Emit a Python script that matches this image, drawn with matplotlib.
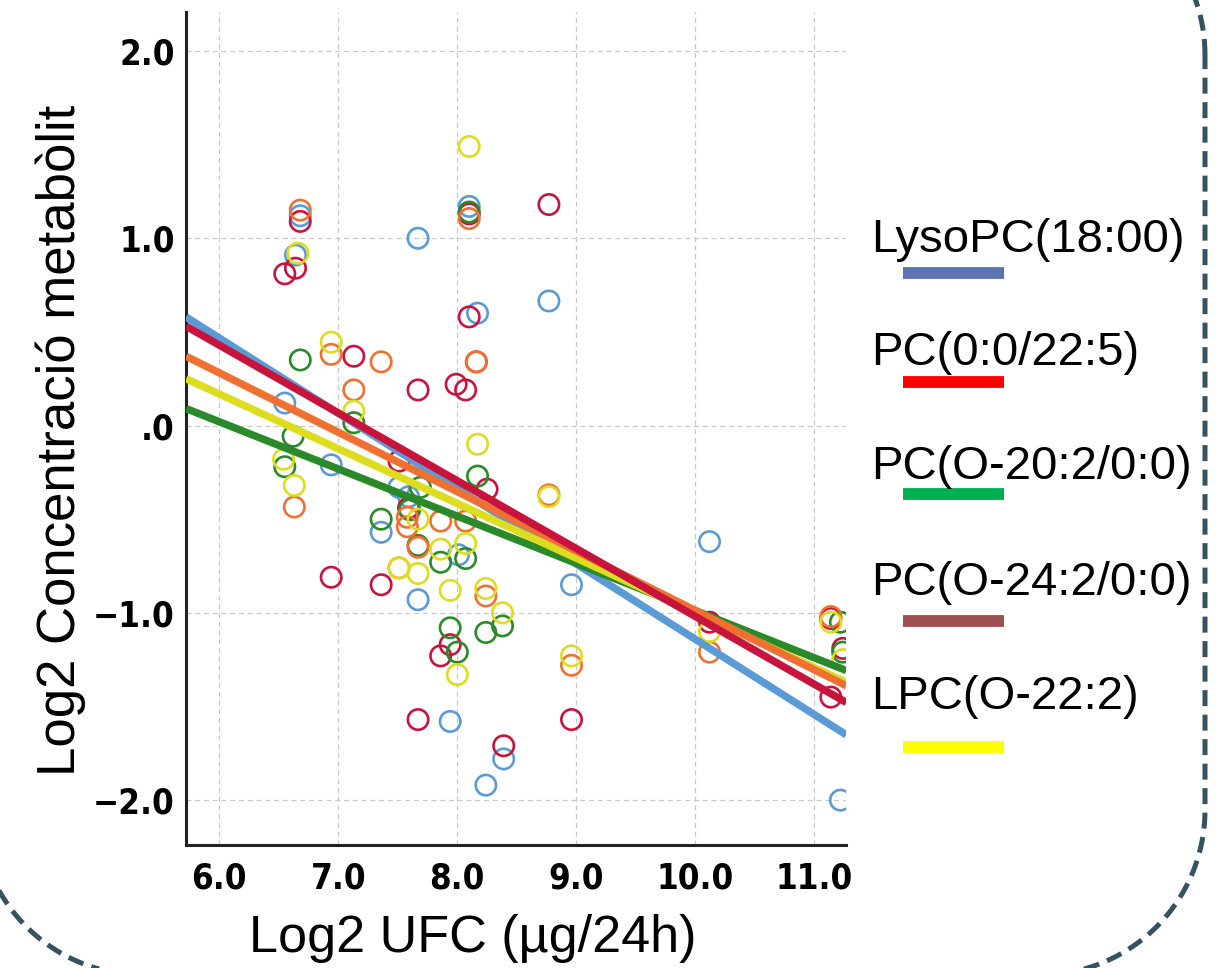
import numpy as np
import matplotlib.pyplot as plt
from matplotlib.lines import Line2D

# series names (legend) and their colours
names = ['LysoPC(18:00)', 'PC(0:0/22:5)', 'PC(O-20:2/0:0)', 'PC(O-24:2/0:0)', 'LPC(O-22:2)']
plot_colors = ['#5b9bd5', '#c8143c', '#2a8a2a', '#f07032', '#dedc1e']
legend_colors = ['#5b72b3', '#ff0000', '#00b050', '#9c5050', '#ffff00']

# scatter values (log2 UFC, log2 metabolite)
blue_x = [6.68, 6.64, 7.67, 8.10, 8.17, 8.77, 6.55, 6.94, 7.36, 7.51, 7.59, 7.67, 8.01, 8.96, 10.12, 7.94, 8.39, 8.24, 11.22]
blue_y = [1.12, 0.91, 1.00, 1.17, 0.60, 0.665, 0.12, -0.21, -0.57, -0.33, -0.38, -0.93, -0.69, -0.85, -0.62, -1.58, -1.78, -1.92, -2.00]

red_x = [6.68, 6.64, 6.55, 8.10, 8.77, 8.10, 7.13, 8.16, 7.67, 7.99, 8.07, 7.51, 7.59, 8.25, 6.94, 7.36, 7.86, 7.94, 7.67, 8.39, 8.96, 10.12, 11.14, 11.24, 11.14]
red_y = [1.09, 0.84, 0.81, 1.13, 1.18, 0.58, 0.37, 0.34, 0.19, 0.22, 0.19, -0.19, -0.44, -0.34, -0.81, -0.85, -1.23, -1.17, -1.57, -1.71, -1.57, -1.05, -1.03, -1.19, -1.45]

green_x = [8.10, 6.68, 7.13, 6.62, 6.55, 7.36, 7.69, 7.67, 7.86, 8.07, 8.17, 7.94, 8.00, 8.24, 8.38, 11.22, 11.24, 7.60]
green_y = [1.14, 0.35, 0.015, -0.057, -0.22, -0.50, -0.33, -0.64, -0.73, -0.71, -0.27, -1.08, -1.21, -1.105, -1.07, -1.05, -1.21, -0.45]

orange_x = [6.68, 8.10, 6.94, 7.13, 7.36, 8.16, 6.63, 7.58, 7.58, 7.67, 7.86, 8.07, 7.51, 8.24, 8.77, 8.96, 10.12, 11.14]
orange_y = [1.15, 1.105, 0.38, 0.19, 0.34, 0.34, -0.435, -0.49, -0.54, -0.65, -0.51, -0.51, -0.76, -0.91, -0.37, -1.28, -1.21, -1.02]

yellow_x = [8.10, 6.66, 6.94, 7.13, 6.54, 6.63, 7.67, 7.86, 8.17, 8.07, 7.51, 7.67, 7.94, 8.24, 8.38, 8.00, 8.77, 8.96, 10.12, 11.14, 11.24]
yellow_y = [1.49, 0.92, 0.445, 0.077, -0.18, -0.32, -0.50, -0.66, -0.10, -0.63, -0.76, -0.79, -0.88, -0.87, -1.00, -1.33, -0.38, -1.23, -1.10, -1.05, -1.25]

# fitted lines: intercept and slope for each series
intercepts = [2.879, 2.601, 1.532, 2.183, 1.920]
slopes = [-0.402, -0.362, -0.252, -0.317, -0.292]

xticks = [6.0, 7.0, 8.0, 9.0, 10.0, 11.0]
yticks = [2.0, 1.0, 0.0, -1.0, -2.0]
ytick_labels = ['2.0', '1.0', '.0', '\u22121.0', '\u22122.0']

series_x = [blue_x, red_x, green_x, orange_x, yellow_x]
series_y = [blue_y, red_y, green_y, orange_y, yellow_y]

fig = plt.figure(figsize=(12.16, 9.68), dpi=100)
ax = fig.add_axes([0.153, 0.127, 0.543, 0.861])

for xs, ys, c in zip(series_x, series_y, plot_colors):
    ax.scatter(xs, ys, s=215, facecolors='none', edgecolors=c, linewidths=1.9, zorder=3)

xmin, xmax = 5.72, 11.27
xl = np.array([xmin, xmax])
for i in [0, 2, 4, 3, 1]:
    ax.plot(xl, intercepts[i] + slopes[i] * xl, color=plot_colors[i], lw=5.4,
            solid_capstyle='butt', zorder=4)

ax.set_xlim(xmin, xmax)
ax.set_ylim(-2.24, 2.21)
ax.set_xticks(xticks)
ax.set_xticklabels(['%.1f' % v for v in xticks])
ax.set_yticks(yticks)
ax.set_yticklabels(ytick_labels)
for lab in ax.get_xticklabels() + ax.get_yticklabels():
    lab.set_fontfamily('DejaVu Sans')
    lab.set_fontstretch('condensed')
    lab.set_fontweight('bold')
    lab.set_fontsize(25)
ax.tick_params(axis='both', length=0)
ax.tick_params(axis='x', pad=12)
ax.tick_params(axis='y', pad=8)
ax.grid(True, linestyle=(0, (4, 3)), color='#c8c8c8', lw=0.9)
ax.set_axisbelow(True)
for s in ['top', 'right']:
    ax.spines[s].set_visible(False)
for s in ['left', 'bottom']:
    ax.spines[s].set_linewidth(2.2)
    ax.spines[s].set_color('#222222')

fig.text(0.050, 0.545, 'Log2 Concentració metabòlit', rotation=90, ha='center', va='center',
         family='Liberation Sans', fontsize=38)
fig.text(0.389, 0.030, 'Log2 UFC (\u00b5g/24h)', ha='center', va='center',
         family='Liberation Sans', fontsize=37.5)

# legend: text with coloured bar below
text_base = [252, 365, 479, 595, 709]
bar_y = [273, 382, 494, 621, 747]
for name, c, tb, by in zip(names, legend_colors, text_base, bar_y):
    fig.text(871 / 1216, 1 - tb / 968, name, ha='left', va='baseline',
             family='Liberation Sans', fontsize=34)
    fig.add_artist(Line2D([903 / 1216, 1004 / 1216], [1 - by / 968, 1 - by / 968],
                          color=c, lw=8.5, solid_capstyle='butt', transform=fig.transFigure))

# dashed rounded frame (inches), mostly outside the figure
left, right, bottom, top, r = -0.22, 12.05, -0.07, 10.78, 1.65
t = np.linspace(0, np.pi / 2, 40)
fx = np.concatenate([right - r + r * np.cos(t),            # top-right
                     left + r - r * np.sin(t),              # top-left
                     left + r - r * np.cos(t),              # bottom-left
                     right - r + r * np.sin(t),             # bottom-right
                     [right]])
fy = np.concatenate([top - r + r * np.sin(t),
                     top - r + r * np.cos(t),
                     bottom + r - r * np.sin(t),
                     bottom + r - r * np.cos(t),
                     [top - r]])
fig.add_artist(Line2D(fx, fy, transform=fig.dpi_scale_trans, color='#34525f', lw=3.6,
                      linestyle=(0, (3.2, 1.7)), clip_on=False))

fig.savefig('out.png', dpi=100)
